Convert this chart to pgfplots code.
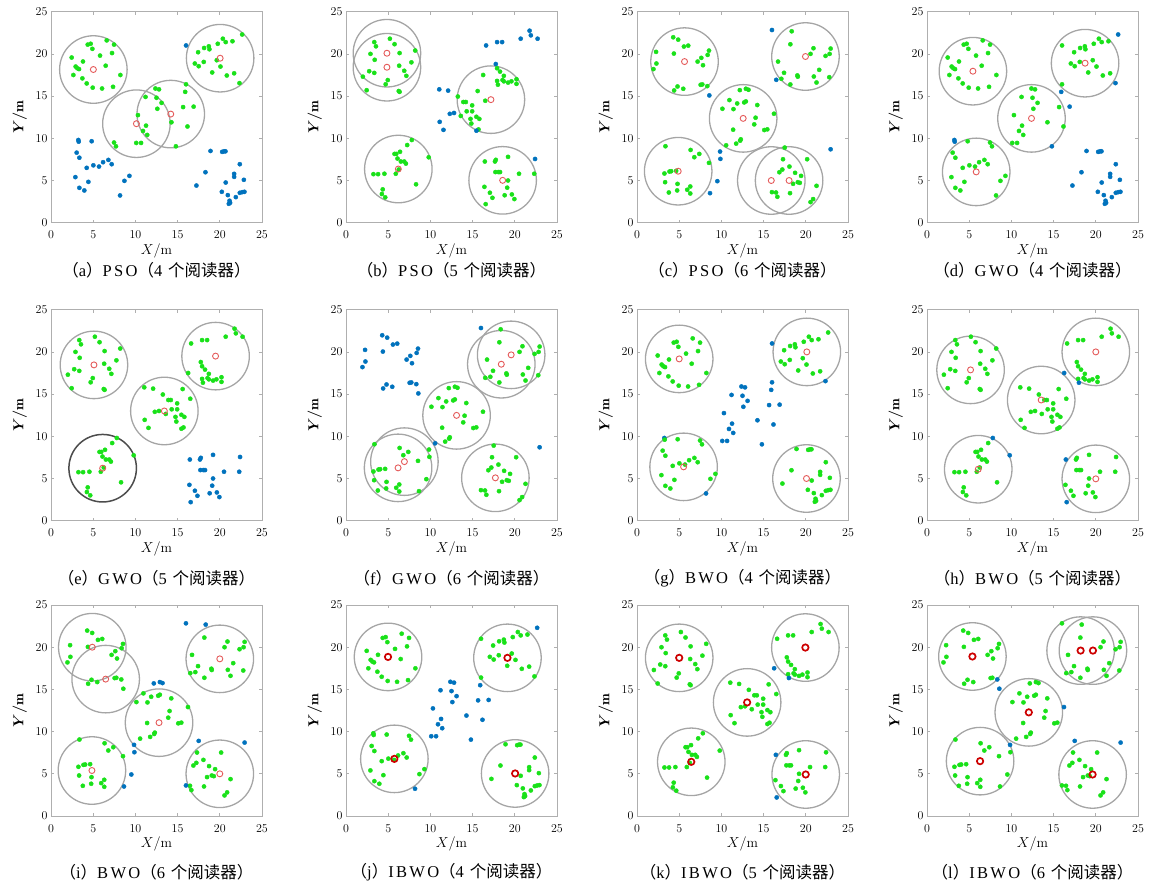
\documentclass[border=0pt]{standalone}
\usepackage{fontspec}
\usepackage{pgfplots}
\usepackage{pgfplotstable}
\pgfplotsset{compat=1.18}
\newfontfamily\cjk{Noto Sans CJK SC}
\newfontfamily\capfont[LetterSpace=14]{Liberation Serif}
\definecolor{tagg}{RGB}{25,225,25}
\definecolor{tagb}{RGB}{0,114,189}
\definecolor{cent}{RGB}{228,90,90}
\definecolor{centd}{RGB}{205,0,0}
\definecolor{circ}{RGB}{165,165,165}
\definecolor{frm}{RGB}{175,175,175}

\pgfplotsset{
  myaxis/.style={
    width=211pt, height=211pt, scale only axis,
    xmin=0, xmax=25, ymin=0, ymax=25,
    xtick={0,5,...,25}, ytick={0,5,...,25},
    tick align=inside, major tick length=3pt,
    axis line style={frm, line width=0.8pt},
    tick style={frm, line width=0.7pt},
    tick label style={font=\fontsize{12}{13}\selectfont},
    xticklabel style={yshift=-5pt},
    xlabel={$X/\mathrm{m}$}, ylabel={$Y/\mathrm{m}$},
    xlabel style={font=\fontsize{14}{15}\selectfont, yshift=2pt},
    ylabel style={font=\fontsize{14}{15}\selectfont\boldmath, yshift=2pt},
  },
  rings/.style={only marks, scatter, scatter src=explicit symbolic,
    scatter/classes={
      n={mark=o, mark size=33.76pt, draw=circ, line width=1.3pt},
      d={mark=o, mark size=33.76pt, draw=black!70, line width=1.5pt}}},
  tags/.style={only marks, scatter, scatter src=explicit symbolic,
    scatter/classes={
      g={mark=*, mark size=2.1pt, draw=tagg, fill=tagg},
      b={mark=*, mark size=2.1pt, draw=tagb, fill=tagb}}},
  cn/.style={only marks, mark=o, mark size=3pt, mark options={draw=cent, line width=0.9pt}},
  cb/.style={only marks, mark=o, mark size=3.2pt, mark options={draw=centd, line width=1.7pt}},
}

% ---------- tag positions, scenario of 4 readers (panels a, d, g, j) ----------
\pgfplotstableread{
x y pa pd pg pj
2.45 19.57 g g g g
4.35 21.1 g g g g
4.70 21.2 g g g g
4.90 20.6 g g g g
6.60 21.6 g g g g
7.47 21.1 g g g g
7.23 20.1 g g g g
5.81 19.8 g g g g
3.79 19.1 g g g g
2.92 18.5 g g g g
3.12 18.3 g g g g
3.32 18.2 g g g g
6.48 18.6 g g g g
2.65 17.5 g g g g
3.72 17.1 g g g g
4.23 16.5 g g g g
4.94 16.0 g g g g
6.05 15.9 g g g g
7.35 16.1 g g g g
8.22 17.5 g g g g
22.65 22.3 g b g b
20.36 21.8 g g g g
20.70 21.4 g g g g
21.50 21.5 g g g g
19.76 21.2 g g g g
18.70 20.9 g g g g
18.77 20.55 g g g g
18.14 20.7 g g g g
17.43 20.2 g g g g
18.10 19.05 g g g g
17.04 18.86 g g g g
17.50 18.54 g g g g
19.64 19.25 g g g g
20.08 18.5 g g g g
19.10 17.8 g g g g
20.83 17.44 g g g g
21.70 17.7 g g g g
22.33 16.54 g b b g
16.00 21.0 b g b g
12.37 15.9 g g b b
12.80 15.8 g g b b
11.20 14.9 g g b b
12.50 14.8 g g b b
13.10 14.2 g g b b
12.60 13.5 g g b b
10.30 12.75 g g b b
11.26 11.5 g g b b
10.90 10.87 g g b b
11.40 10.4 g g b b
10.10 9.45 g g b b
10.67 9.45 g g b b
14.27 11.9 g g b b
15.65 13.7 g g b b
16.17 11.4 g g b b
16.00 16.4 g g b g
15.90 15.5 g b b b
16.90 13.75 g b b b
14.80 9.05 g b b b
7.47 9.5 g g g g
7.70 9.05 g g g g
3.24 9.8 b b b g
3.28 9.6 b b g g
4.82 9.65 b g g g
3.04 8.3 b g g g
3.36 7.7 b g g g
4.23 6.5 b g g g
5.02 6.8 b g g g
5.69 6.65 b g g g
6.17 7.17 b g g g
6.80 7.44 b g g g
7.19 6.93 b g g g
2.89 5.4 b g g g
4.43 4.84 b g g g
9.29 5.55 b g g g
8.70 4.96 b g g g
3.36 4.13 b g g g
3.95 3.82 b g g g
8.18 3.23 b g b b
18.90 8.5 b b g g
20.28 8.39 b b g g
20.50 8.46 b b g g
20.67 8.46 b b g g
18.30 5.98 b b g g
17.23 4.4 b b g g
22.37 6.93 b b g g
21.70 5.79 b b g g
21.70 5.43 b b g g
20.70 4.76 b b g g
22.85 5.08 b b g g
20.24 3.66 b b g g
20.95 3.27 b b g g
21.90 3.03 b b g g
21.15 2.6 b b g g
21.22 2.36 b b g g
21.07 2.24 b b g g
22.37 3.54 b b g g
22.65 3.62 b b g g
22.92 3.66 b b g g
}\tagsA

% ---------- tag positions, scenario of 5 readers (panels b, e, h, k) ----------
\pgfplotstableread{
x y pb pe ph pk
3.35 21.4 g g g g
5.20 21.8 g g g g
5.75 21.15 g g g g
3.55 20.9 g g g g
6.35 20.1 g g g g
2.90 20.0 g g g g
3.40 19.3 g g g g
8.20 20.4 g g g g
7.75 19.0 g g g g
6.30 18.6 g g g g
6.90 18.0 g g g g
7.15 17.4 g g g g
2.75 17.95 g g g g
3.35 17.75 g g g g
2.00 17.3 g g g g
4.95 16.9 g g g g
4.70 16.4 g g g g
2.45 15.7 g g g g
6.25 15.6 g g g g
6.35 15.5 g g g g
21.75 22.75 b g g g
21.90 22.2 b g g g
22.70 21.8 b g g g
20.70 21.8 b g g g
17.90 21.4 b g g g
18.50 21.4 b g g g
16.60 21.0 b g g g
17.75 18.8 b g g g
17.90 18.3 g g g g
18.25 17.9 g g g g
16.25 17.5 g g b b
18.70 17.4 g g g g
17.90 16.8 g g g g
18.00 16.35 g g b b
18.55 16.9 g g g g
18.70 16.75 g g g g
19.20 16.6 g g g g
19.60 16.75 g g g g
20.20 17.0 g g g g
20.20 16.45 g g g g
15.60 15.6 g g g g
13.25 14.95 g g g g
16.50 14.45 g g g g
13.90 14.3 g g g g
14.20 14.3 g g g g
14.95 13.9 g g g g
14.30 13.2 g g g g
14.95 13.2 g g g g
13.60 12.65 g g g g
15.45 12.55 g g g g
15.80 12.3 g g g g
14.75 12.3 g g g g
14.85 11.75 g g g g
15.70 11.05 g g g g
11.05 15.8 b g g g
12.10 15.65 b g g g
12.30 12.9 b g g g
12.80 13.0 b g g g
11.10 11.95 b g g g
11.55 11.0 b g g g
15.45 10.9 b g g g
7.80 9.8 g g b g
7.25 9.2 g g g g
6.40 8.4 g g g g
5.75 8.15 g g g g
5.95 8.15 g g g g
6.10 7.6 g g g g
6.50 7.25 g g g g
6.90 7.25 g g g g
7.10 7.0 g g g g
9.80 7.75 g g b g
5.90 5.8 g g g g
3.25 5.75 g g g g
3.80 5.75 g g g g
4.55 5.8 g g g g
8.30 4.55 g g g g
4.35 3.95 g g g g
4.25 3.4 g g g g
4.65 3.0 g g g g
6.25 6.3 g g g g
16.45 7.25 g b b b
17.65 7.25 g b g g
17.75 7.45 g b g g
19.20 7.8 g b g g
17.70 6.0 g b g g
18.05 6.0 g b g g
18.25 6.0 g b g g
20.50 5.8 g b g g
22.30 5.8 g b g g
19.20 5.0 g b g g
16.40 4.25 g b g g
19.10 4.15 g b g g
17.05 3.55 g b g g
17.35 2.95 g b g g
18.80 3.25 g b g g
19.65 3.35 g b g g
19.95 2.8 g b g g
16.55 2.2 g b b b
22.40 7.55 b b g g
}\tagsB

% ---------- tag positions, scenario of 6 readers (panels c, f, i, l) ----------
\pgfplotstableread{
x y pc pf pi pl
4.29 21.97 g b g g
4.88 21.69 g b g g
5.56 20.87 g b g g
6.07 20.98 g b g g
2.26 20.24 g b g g
4.37 20.04 g b g g
8.53 20.39 g b g g
8.37 19.88 g b g g
7.62 19.53 g b g g
7.18 19.09 g b g g
2.30 18.86 g b g g
7.82 18.66 g b g g
1.95 18.2 g b g g
7.54 16.34 g b g g
7.74 16.38 g b g g
8.33 16.18 g b g b
4.80 16.14 g b g g
5.48 15.87 g b g g
4.40 15.67 g b g g
8.57 15.08 b b g b
18.33 22.68 g g b g
18.17 21.14 g g g g
20.91 20.67 g g g g
20.56 20.0 g g g g
22.94 20.63 g g g g
22.82 20.0 g g g g
22.34 19.76 g g g g
16.71 19.09 g g g g
21.59 18.11 g g g g
17.42 17.76 g g g g
19.00 17.45 g g g g
19.05 17.3 g g g g
20.95 17.32 g g g g
22.78 17.24 g g g g
17.10 17.05 g g g g
21.27 16.61 g g g g
18.17 16.38 g g g g
15.99 22.83 b b b g
16.50 16.93 b g g g
12.18 15.71 g g b g
12.90 15.87 g g b g
13.21 15.75 g g b g
10.95 14.53 g g g g
11.87 14.13 g g g g
12.70 14.25 g g g g
12.90 14.37 g g g g
14.25 13.94 g g g g
10.12 13.5 g g g g
11.43 13.46 g g g g
14.05 12.44 g g g g
13.89 11.65 g g g g
11.39 11.02 g g g g
15.08 10.98 g g g g
15.44 11.06 g g g g
12.30 9.88 g g g g
12.22 9.72 g g g g
11.75 9.37 g g g g
16.23 12.91 g g g b
10.56 9.17 g b g g
9.84 8.43 b g b b
9.88 7.56 b g b g
3.37 9.06 g g g g
6.35 8.62 g g g g
7.38 8.15 g g g g
6.79 7.76 g g g g
8.53 7.09 g g g g
3.85 6.06 g g g g
4.05 6.1 g g g g
4.64 6.14 g g g g
3.25 5.83 g g g g
3.33 4.8 g g g g
4.80 4.6 g g g g
6.31 4.29 g g g g
4.76 3.82 g g g g
5.95 3.9 g g g g
3.77 3.58 g g g g
6.31 3.46 g g g g
9.52 4.92 b g b g
8.65 3.5 b g b g
17.50 8.9 g g b b
20.16 7.52 g g g g
17.30 7.52 g g g g
18.06 6.65 g g g g
17.22 6.3 g g g g
16.87 5.98 g g g g
18.73 5.91 g g g g
19.44 5.55 g g g g
18.49 4.61 g g g g
19.05 4.8 g g g g
19.29 4.72 g g g g
21.27 4.37 g g g g
16.47 3.58 g g g g
16.63 3.07 g g g g
18.13 3.5 g g g g
20.87 2.8 g g g g
20.56 2.44 g g g g
15.99 3.62 g g b g
22.94 8.7 b b b b
}\tagsC

% ---------- reader positions ----------
\pgfplotstableread{
x y s
5.02 18.15 n
10.12 11.73 n
14.19 12.87 n
20.04 19.49 n
}\cenA
\pgfplotstableread{
x y s
4.85 20.08 n
4.85 18.42 n
17.17 14.58 n
6.20 6.36 n
18.56 5.02 n
}\cenB
\pgfplotstableread{
x y s
5.63 19.09 n
19.96 19.69 n
12.58 12.36 n
4.88 6.10 n
15.91 5.00 n
18.02 5.00 n
}\cenC
\pgfplotstableread{
x y s
5.44 17.95 n
18.73 18.90 n
12.38 12.36 n
5.83 6.02 n
}\cenD
\pgfplotstableread{
x y s
5.09 18.46 n
19.50 19.50 n
13.43 13.00 n
6.12 6.22 d
}\cenE
\pgfplotstableread{
x y s
18.40 18.54 n
19.57 19.65 n
13.10 12.48 n
6.17 6.26 n
6.92 7.00 n
17.70 5.08 n
}\cenF
\pgfplotstableread{
x y s
5.00 19.17 n
20.12 20.00 n
5.52 6.38 n
20.08 5.00 n
}\cenG
\pgfplotstableread{
x y s
5.16 17.87 n
20.00 20.00 n
13.53 14.30 n
6.07 6.10 n
20.00 4.96 n
}\cenH
\pgfplotstableread{
x y s
4.89 20.00 n
6.48 16.22 n
12.80 11.06 n
4.85 5.39 n
20.00 18.62 n
20.00 5.00 n
}\cenI
\pgfplotstableread{
x y s
4.98 18.85 n
19.13 18.74 n
5.73 6.77 n
20.04 5.04 n
}\cenJ
\pgfplotstableread{
x y s
5.00 18.74 n
19.95 19.96 n
13.05 13.46 n
6.43 6.42 n
19.99 4.92 n
}\cenK
\pgfplotstableread{
x y s
5.38 18.90 n
18.20 19.60 n
19.66 19.60 n
12.06 12.28 n
6.29 6.50 n
19.62 4.92 n
}\cenL

\newcommand\capt[3]{{\cjk （}{\capfont #1}{\cjk ）}{\capfont #2}{\cjk （}{\capfont #3}\hspace{0.35em}{\cjk 个阅读器）}}

% #1 left, #2 top, #3 tags, #4 class column, #5 readers, #6 reader style, #7 caption, #8 caption y
\newcommand\panel[8]{%
  \begin{axis}[myaxis, at={(#1pt,-#2pt)}, anchor=north west]
    \addplot[rings] table[x=x,y=y,meta=s] {#5};
    \addplot[tags] table[x=x,y=y,meta=#4] {#3};
    \addplot[#6] table[x=x,y=y] {#5};
  \end{axis}
  \node[font=\fontsize{16.5}{18}\selectfont, anchor=center] at ({#1pt+105.5pt},{-#8pt}) {#7};
}

\begin{document}
\begin{tikzpicture}
\path[use as bounding box] (0pt,0pt) rectangle (1154pt,-883pt);
\panel{51}{11.7}{\tagsA}{pa}{\cenA}{cn}{\capt{a}{PSO}{4}}{270}
\panel{346}{11.7}{\tagsB}{pb}{\cenB}{cn}{\capt{b}{PSO}{5}}{270}
\panel{637}{11.7}{\tagsC}{pc}{\cenC}{cn}{\capt{c}{PSO}{6}}{270}
\panel{927}{11.7}{\tagsA}{pd}{\cenD}{cn}{\capt{d}{GWO}{4}}{270}
\panel{51}{309.7}{\tagsB}{pe}{\cenE}{cn}{\capt{e}{GWO}{5}}{578}
\panel{346}{309.7}{\tagsC}{pf}{\cenF}{cn}{\capt{f}{GWO}{6}}{578}
\panel{637}{309.7}{\tagsA}{pg}{\cenG}{cn}{\capt{g}{BWO}{4}}{578}
\panel{927}{309.7}{\tagsB}{ph}{\cenH}{cn}{\capt{h}{BWO}{5}}{578}
\panel{51}{605}{\tagsC}{pi}{\cenI}{cn}{\capt{i}{BWO}{6}}{872}
\panel{346}{605}{\tagsA}{pj}{\cenJ}{cb}{\capt{j}{IBWO}{4}}{872}
\panel{637}{605}{\tagsB}{pk}{\cenK}{cb}{\capt{k}{IBWO}{5}}{872}
\panel{927}{605}{\tagsC}{pl}{\cenL}{cb}{\capt{l}{IBWO}{6}}{872}
\end{tikzpicture}
\end{document}
